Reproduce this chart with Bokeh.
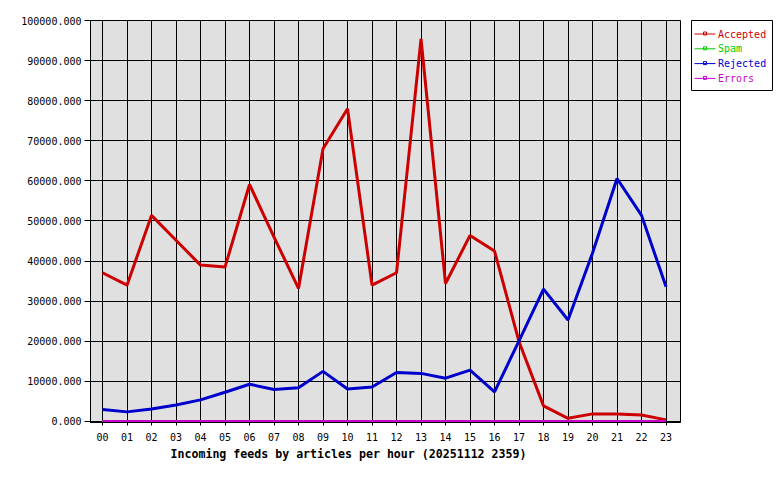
from bokeh.plotting import figure
from bokeh.layouts import row
from bokeh.models import Range1d, FixedTicker, PrintfTickFormatter, Title
from bokeh.core.properties import value
from bokeh.embed import file_html
from bokeh.resources import INLINE

hours = ["00", "01", "02", "03", "04", "05", "06", "07", "08", "09", "10", "11",
         "12", "13", "14", "15", "16", "17", "18", "19", "20", "21", "22", "23"]
accepted = [37100, 34000, 51400, 45200, 39000, 38500, 59100, 46000, 33200, 68000, 78000, 34000,
            37100, 95400, 34400, 46400, 42500, 19900, 3900, 800, 1900, 1900, 1600, 400]
spam = [0] * 24
rejected = [3000, 2400, 3100, 4100, 5400, 7300, 9300, 8000, 8400, 12500, 8100, 8600,
            12200, 12000, 10800, 12800, 7400, 20100, 33000, 25300, 42000, 60600, 51400, 33600]
errors = [0] * 24
series_names = ["Accepted", "Spam", "Rejected", "Errors"]
series_colors = ["#CC0000", "#00CC00", "#0000CC", "#CC00CC"]
series_values = [accepted, spam, rejected, errors]
y_ticks = [0, 10000, 20000, 30000, 40000, 50000, 60000, 70000, 80000, 90000, 100000]
title_text = "Incoming feeds by articles per hour (20251112 2359)"

FONT = "DejaVu Sans Mono"
x = list(range(len(hours)))

p = figure(frame_width=590, frame_height=402, min_border_left=90, min_border_right=5,
           min_border_top=20, min_border_bottom=53,
           x_range=Range1d(-0.49, 23.59), y_range=Range1d(-250, 100000),
           output_backend="svg", toolbar_location=None, background_fill_color="#E0E0E0",
           border_fill_color="white")
p.outline_line_color = "black"
p.outline_line_width = 1

for vals, col in zip(series_values, series_colors):
    p.line(x, vals, line_color=col, line_width=3)

p.xaxis.ticker = FixedTicker(ticks=x)
p.xaxis.major_label_overrides = {i: h for i, h in enumerate(hours)}
p.yaxis.ticker = FixedTicker(ticks=y_ticks)
p.yaxis.formatter = PrintfTickFormatter(format="%.3f")
for ax in (p.xaxis, p.yaxis):
    ax.major_label_text_font = FONT
    ax.major_label_text_font_size = "10px"
    ax.major_label_text_color = "black"
    ax.minor_tick_line_color = None
    ax.major_tick_in = 0
    ax.axis_line_color = "black"
    ax.major_tick_line_color = "black"
p.xaxis.major_tick_out = 3
p.xaxis.major_label_standoff = 7
p.yaxis.major_tick_out = 6
p.yaxis.major_label_standoff = 3

p.xgrid.ticker = FixedTicker(ticks=x)
p.ygrid.ticker = FixedTicker(ticks=y_ticks)
for g in (p.xgrid, p.ygrid):
    g.grid_line_color = "black"
    g.grid_line_width = 1
    g.grid_line_alpha = 1

t = Title(text=title_text, align="left", offset=80, text_font=FONT, text_color="black",
          text_font_size="11.6px", text_font_style="bold", standoff=2)
p.add_layout(t, "below")

# legend panel
lg = figure(frame_width=81, frame_height=70, min_border_left=6, min_border_right=8,
            min_border_top=20, min_border_bottom=385,
            x_range=Range1d(0, 81), y_range=Range1d(70, 0),
            output_backend="svg", toolbar_location=None)
lg.axis.visible = False
lg.grid.visible = False
lg.outline_line_color = "black"
lg.background_fill_color = "white"
for i, (name, col) in enumerate(zip(series_names, series_colors)):
    yy = 13.5 + 14.8 * i
    lg.line([3, 24], [yy, yy], line_color=col, line_width=1)
    lg.scatter([13.5], [yy - 0.5], marker="square", size=3, fill_color=None, line_color=col)
    lg.text([26.5], [yy], text=[name], text_color=col, text_font=value(FONT),
            text_font_size="10px", text_baseline="middle", text_align="left")

layout = row(p, lg)
open("out.html", "w").write(file_html(layout, INLINE))
